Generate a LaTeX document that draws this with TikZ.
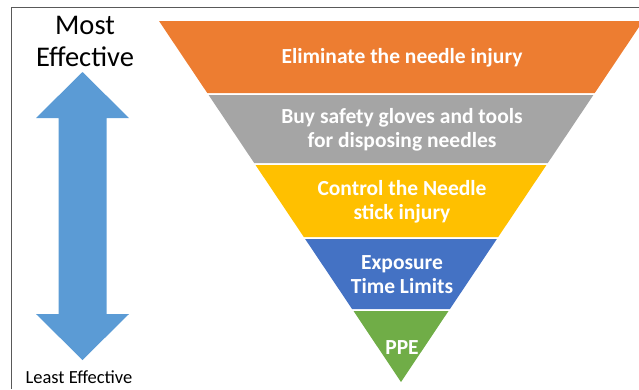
\documentclass[tikz,border=0pt]{standalone}
\usepackage{fontspec}
\setmainfont{Carlito}
\definecolor{couleurorange}{HTML}{ED7D31}
\definecolor{couleurgris}{HTML}{A5A5A5}
\definecolor{couleurjaune}{HTML}{FFC000}
\definecolor{couleurbleu}{HTML}{4472C4}
\definecolor{couleurvert}{HTML}{70AD47}
\definecolor{couleurfleche}{HTML}{5B9BD5}
\definecolor{couleurcadre}{HTML}{595959}
% bande du triangle : couleur, haut, bas
\newcommand{\bande}[3]{\fill[#1] ({159+(#2-21)*0.6704},#2) -- ({643-(#2-21)*0.6704},#2) -- ({643-(#3-21)*0.6704},#3) -- ({159+(#3-21)*0.6704},#3) -- cycle;}
\tikzset{
		basic/.style={inner sep=0pt, align=center},
		textbande/.style={basic, text=white, font=\fontsize{21.5}{24}\selectfont\bfseries},
		effmax/.style={basic, font=\fontsize{28.5}{32}\selectfont},
		effmin/.style={basic, font=\fontsize{18.5}{20}\selectfont}
	}
\begin{document}
\begin{tikzpicture}[x=1pt,y=-1pt]
		\useasboundingbox (0,0) rectangle (639,389);
		\clip (0,0) rectangle (639,389);
		% cadre
		\draw[couleurcadre, line width=1pt] (11,389) -- (11,7) -- (640,7);
		% bandes
		\bande{couleurorange}{21}{93}
		\bande{couleurgris}{95}{163}
		\bande{couleurjaune}{165}{237}
		\bande{couleurbleu}{239}{309}
		\fill[couleurvert] (353.5,311) -- (448.5,311) -- (401,382) -- cycle;
		% fleche
		\fill[couleurfleche] (82.5,72) -- (129,118) -- (106.5,118) -- (106.5,314) -- (129,314) -- (82.5,360)
			-- (36,314) -- (58.5,314) -- (58.5,118) -- (36,118) -- cycle;
		% textes
		\node[effmax](plusefft) at (85,41) {Most\\Effective};
		\node[effmin](moinefft) at (79,377) {Least Effective};
		\node[textbande](eliminer) at (402,58) {Eliminate the needle injury};
		\node[textbande](acheter) at (402,130) {Buy safety gloves and tools\\for disposing needles};
		\node[textbande](controle) at (402,202) {Control the Needle\\stick injury};
		\node[textbande](exposit) at (402,275) {Exposure\\Time Limits};
		\node[textbande](epi) at (402,348) {PPE};
	\end{tikzpicture}
\end{document}
